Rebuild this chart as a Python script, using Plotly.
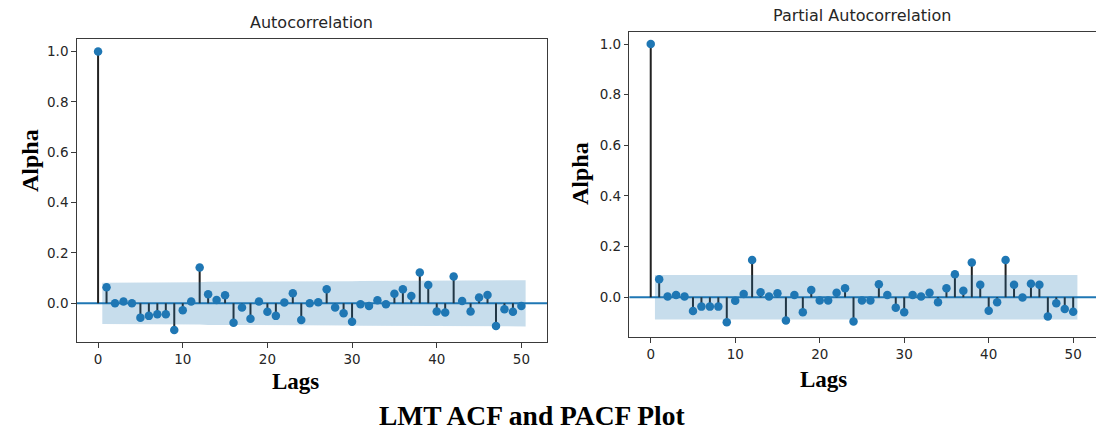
import plotly.graph_objects as go

lags = list(range(51))

acf_vals = [1.0, 0.064, 0.0, 0.007, 0.0, -0.057, -0.050, -0.044, -0.044, -0.106,
            -0.028, 0.007, 0.142, 0.036, 0.013, 0.032, -0.077, -0.017, -0.061, 0.007,
            -0.034, -0.050, 0.003, 0.040, -0.066, 0.0, 0.004, 0.056, -0.017, -0.040,
            -0.073, -0.004, -0.011, 0.012, -0.004, 0.038, 0.056, 0.029, 0.122, 0.073,
            -0.033, -0.037, 0.106, 0.009, -0.033, 0.023, 0.033, -0.090, -0.024, -0.034,
            -0.011]

pacf_vals = [1.0, 0.071, 0.003, 0.009, 0.003, -0.054, -0.037, -0.037, -0.037, -0.099,
             -0.014, 0.013, 0.147, 0.020, 0.003, 0.016, -0.092, 0.009, -0.059, 0.029,
             -0.013, -0.013, 0.018, 0.036, -0.096, -0.013, -0.013, 0.051, 0.009, -0.041,
             -0.059, 0.009, 0.003, 0.018, -0.020, 0.036, 0.091, 0.026, 0.137, 0.049,
             -0.053, -0.020, 0.147, 0.049, -0.001, 0.053, 0.049, -0.076, -0.024, -0.046,
             -0.057]

# confidence band half-widths for lags 1..50
acf_band = [0.082, 0.082, 0.082, 0.082, 0.082, 0.082, 0.082, 0.082, 0.083, 0.084,
            0.084, 0.084, 0.086, 0.086, 0.086, 0.086, 0.087, 0.087, 0.087, 0.087,
            0.087, 0.087, 0.087, 0.087, 0.088, 0.088, 0.088, 0.088, 0.088, 0.088,
            0.089, 0.089, 0.089, 0.089, 0.089, 0.089, 0.089, 0.089, 0.090, 0.090,
            0.090, 0.090, 0.091, 0.091, 0.091, 0.091, 0.091, 0.092, 0.092, 0.092]

pacf_band = [0.088, 0.088, 0.088, 0.088, 0.088, 0.088, 0.088, 0.088, 0.088, 0.088,
             0.088, 0.088, 0.088, 0.088, 0.088, 0.088, 0.088, 0.088, 0.088, 0.088,
             0.088, 0.088, 0.088, 0.088, 0.088, 0.088, 0.088, 0.088, 0.088, 0.088,
             0.088, 0.088, 0.088, 0.088, 0.088, 0.088, 0.088, 0.088, 0.088, 0.088,
             0.088, 0.088, 0.088, 0.088, 0.088, 0.088, 0.088, 0.088, 0.088, 0.088]

x_ticks = [0, 10, 20, 30, 40, 50]
y_ticks = [0.0, 0.2, 0.4, 0.6, 0.8, 1.0]
y_tick_text = ["0.0", "0.2", "0.4", "0.6", "0.8", "1.0"]

BLUE = "#1f77b4"
W, H = 1096, 434

fig = go.Figure()


def add_panel(vals, band, xa, ya):
    xs, ys = [], []
    for k, v in zip(lags, vals):
        xs += [k, k, None]
        ys += [0, v, None]
    fig.add_trace(go.Scatter(x=xs, y=ys, mode="lines", xaxis=xa, yaxis=ya,
                             line=dict(color="#222222", width=2),
                             hoverinfo="skip", showlegend=False))
    fig.add_trace(go.Scatter(x=lags, y=vals, mode="markers", xaxis=xa, yaxis=ya,
                             marker=dict(color=BLUE, size=8.5, line=dict(width=0)),
                             showlegend=False))
    bx = [float(k) for k in lags[1:]]
    bx[0] -= 0.5
    bx[-1] += 0.5
    upper = list(band)
    lower = [-b for b in band]
    fig.add_trace(go.Scatter(x=bx + bx[::-1], y=upper + lower[::-1], mode="lines",
                             fill="toself", fillcolor="rgba(31,119,180,0.25)",
                             line=dict(width=0), xaxis=xa, yaxis=ya,
                             hoverinfo="skip", showlegend=False))


add_panel(acf_vals, acf_band, "x", "y")
add_panel(pacf_vals, pacf_band, "x2", "y2")

# zero lines
fig.add_shape(type="line", xref="x domain", yref="y", x0=0, x1=1, y0=0, y1=0,
              line=dict(color=BLUE, width=2), layer="below")
fig.add_shape(type="line", xref="x2 domain", yref="y2", x0=0, x1=1, y0=0, y1=0,
              line=dict(color=BLUE, width=2), layer="below")

tick_font = dict(family="DejaVu Sans", size=13.5, color="#262626")
axis_common = dict(showgrid=False, zeroline=False, showline=True, linecolor="#3a3a3a",
                   linewidth=1, ticks="outside", ticklen=4.5, tickwidth=1,
                   tickcolor="#3a3a3a", tickfont=tick_font, automargin=False)

fig.update_layout(
    width=W, height=H,
    margin=dict(l=0, r=0, t=0, b=0),
    paper_bgcolor="white", plot_bgcolor="white",
    xaxis=dict(domain=[76.7 / W, 547 / W], range=[-2.525, 53.025], tickvals=x_ticks,
               mirror=True, anchor="y", **axis_common),
    yaxis=dict(domain=[1 - 342.3 / H, 1 - 39 / H], range=[-0.155, 1.050],
               tickvals=y_ticks, ticktext=y_tick_text, mirror=True, anchor="x",
               **axis_common),
    xaxis2=dict(domain=[629.4 / W, 1.0], range=[-2.525, 52.70], tickvals=x_ticks,
                mirror=True, anchor="y2", **axis_common),
    yaxis2=dict(domain=[1 - 337 / H, 1 - 31.7 / H], range=[-0.157, 1.049],
                tickvals=y_ticks, ticktext=y_tick_text, mirror=False, anchor="x2",
                **axis_common),
)

serif = "Liberation Serif"
ann = [
    dict(text="Autocorrelation", x=311.8 / W, y=1 - 22 / H, size=16, family="DejaVu Sans",
         angle=0, color="#262626"),
    dict(text="Partial Autocorrelation", x=862 / W, y=1 - 16 / H, size=16,
         family="DejaVu Sans", angle=0, color="#262626"),
    dict(text="<b>Alpha</b>", x=30 / W, y=1 - 161 / H, size=24, family=serif, angle=-90,
         color="black"),
    dict(text="<b>Alpha</b>", x=580 / W, y=1 - 174 / H, size=24, family=serif, angle=-90,
         color="black"),
    dict(text="<b>Lags</b>", x=295 / W, y=1 - 381 / H, size=23, family=serif, angle=0,
         color="black"),
    dict(text="<b>Lags</b>", x=823 / W, y=1 - 379 / H, size=23, family=serif, angle=0,
         color="black"),
    dict(text="<b>LMT ACF and PACF Plot</b>", x=532 / W, y=1 - 415 / H, size=27.5,
         family=serif, angle=0, color="black"),
]
for a in ann:
    fig.add_annotation(text=a["text"], x=a["x"], y=a["y"], xref="paper", yref="paper",
                       xanchor="center", yanchor="middle", showarrow=False,
                       textangle=a["angle"],
                       font=dict(family=a["family"], size=a["size"], color=a["color"]))

fig.write_html("out.html",
               config={"displayModeBar": False},
               post_script="document.body.style.margin='0';"
                           "document.body.style.overflow='hidden';")
